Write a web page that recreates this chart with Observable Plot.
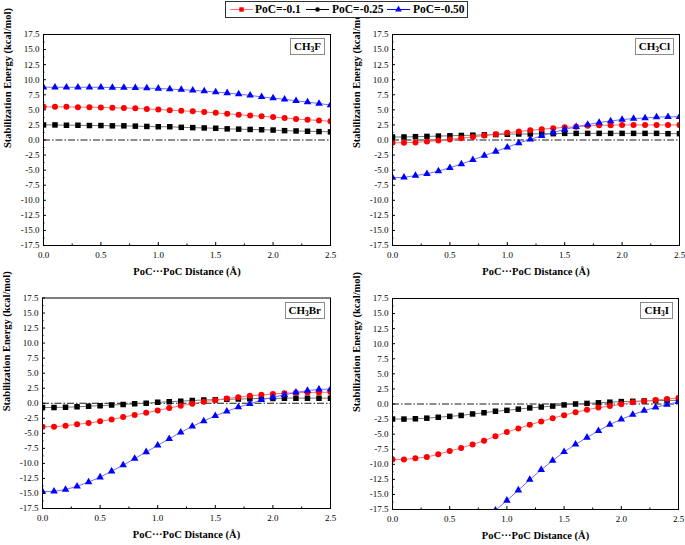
<!DOCTYPE html>
<html>
<head>
<meta charset="utf-8">
<script src="https://cdn.jsdelivr.net/npm/d3@7"></script>
<script src="https://cdn.jsdelivr.net/npm/@observablehq/plot@0.6"></script>
<style>
  html, body { margin: 0; padding: 0; background: #fff; }
  #root { position: relative; width: 685px; height: 545px; font-family: "Liberation Serif", serif; }
  #root svg { font-family: "Liberation Serif", serif !important; }
  .panel { position: absolute; }
  .tag { position: absolute; border: 1px solid #8a8a8a; background: #fff; font: bold 11px "Liberation Serif", serif; padding: 1px 3px 2px 3px; line-height: 12px; white-space: nowrap; }
  .tag sub { font-size: 7.5px; vertical-align: -2px; line-height: 0; }
  #legend { position: absolute; left: 225px; top: 1px; width: 241px; height: 15px; border: 1px solid #333; background: #fff; }
  #legend .lab { position: absolute; top: 0; font: bold 11.5px "Liberation Serif", serif; line-height: 15px; white-space: nowrap; }
  #legend svg { position: absolute; top: 1px; display: block; }
</style>
</head>
<body>
<div id="root"></div>
<script>
// ---- data ----
const seriesNames = ["PoC=-0.1", "PoC=-0.25", "PoC=-0.50"];
const distance = [0.0,0.1,0.2,0.3,0.4,0.5,0.6,0.7,0.8,0.9,1.0,1.1,1.2,1.3,1.4,1.5,1.6,1.7,1.8,1.9,2.0,2.1,2.2,2.3,2.4,2.5];

const F_red   = [5.5,5.5,5.5,5.45,5.45,5.4,5.35,5.3,5.25,5.15,5.05,4.95,4.85,4.75,4.65,4.5,4.35,4.2,4.05,3.95,3.8,3.65,3.5,3.35,3.25,3.1];
const F_black = [2.5,2.5,2.45,2.45,2.4,2.4,2.35,2.35,2.3,2.25,2.2,2.2,2.1,2.05,2.0,1.95,1.85,1.8,1.75,1.7,1.65,1.55,1.5,1.45,1.4,1.35];
const F_blue  = [8.75,8.75,8.75,8.75,8.75,8.75,8.7,8.7,8.65,8.6,8.55,8.45,8.35,8.25,8.1,7.95,7.8,7.6,7.4,7.15,6.95,6.75,6.5,6.3,6.05,5.8];

const Cl_red   = [-0.45,-0.45,-0.4,-0.25,-0.1,0.1,0.3,0.5,0.75,0.95,1.2,1.4,1.6,1.8,1.95,2.1,2.2,2.35,2.45,2.45,2.5,2.5,2.5,2.5,2.5,2.5];
const Cl_black = [0.5,0.5,0.55,0.6,0.65,0.7,0.75,0.8,0.85,0.9,0.95,1.0,1.0,1.05,1.05,1.1,1.1,1.1,1.1,1.1,1.1,1.1,1.1,1.1,1.05,1.05];
const Cl_blue  = [-6.25,-6.2,-5.9,-5.6,-5.15,-4.6,-4.0,-3.3,-2.6,-1.9,-1.2,-0.5,0.1,0.7,1.25,1.75,2.2,2.55,2.9,3.15,3.4,3.55,3.65,3.8,3.85,3.85];

const Br_red   = [-3.9,-3.9,-3.75,-3.5,-3.3,-3.0,-2.7,-2.3,-1.95,-1.6,-1.2,-0.8,-0.4,-0.1,0.25,0.5,0.8,1.0,1.25,1.4,1.55,1.65,1.75,1.8,1.8,1.85];
const Br_black = [-0.7,-0.7,-0.65,-0.6,-0.5,-0.4,-0.3,-0.2,-0.1,0.0,0.15,0.25,0.35,0.45,0.55,0.6,0.65,0.7,0.75,0.8,0.8,0.85,0.85,0.85,0.85,0.85];
const Br_blue  = [-14.7,-14.65,-14.35,-13.8,-13.1,-12.3,-11.3,-10.3,-9.2,-8.1,-7.0,-5.9,-4.85,-3.85,-2.95,-2.1,-1.35,-0.65,-0.1,0.55,1.0,1.4,1.8,2.1,2.3,2.35];

const I_red   = [-9.2,-9.2,-9.0,-8.8,-8.35,-7.8,-7.3,-6.7,-6.1,-5.35,-4.65,-4.05,-3.45,-2.9,-2.35,-1.85,-1.35,-0.95,-0.6,-0.35,-0.05,0.3,0.5,0.65,0.85,1.0];
const I_black = [-2.5,-2.5,-2.45,-2.35,-2.2,-2.05,-1.9,-1.65,-1.45,-1.2,-1.05,-0.85,-0.65,-0.5,-0.35,-0.15,0.0,0.1,0.2,0.3,0.4,0.45,0.5,0.55,0.6,0.6];
const I_blue_x = [0.9,1.0,1.1,1.2,1.3,1.4,1.5,1.6,1.7,1.8,1.9,2.0,2.1,2.2,2.3,2.4,2.5];
const I_blue   = [-17.65,-16.0,-14.3,-12.55,-10.9,-9.4,-7.95,-6.7,-5.55,-4.45,-3.4,-2.55,-1.75,-1.1,-0.55,-0.1,0.35];

const yTicks = [-17.5,-15,-12.5,-10,-7.5,-5,-2.5,0,2.5,5,7.5,10,12.5,15,17.5];
const yMinor = [-16.25,-13.75,-11.25,-8.75,-6.25,-3.75,-1.25,1.25,3.75,6.25,8.75,11.25,13.75,16.25];
const xTicks = [0,0.5,1.0,1.5,2.0,2.5];
const xMinor = [0.25,0.75,1.25,1.75,2.25];

const yTitle = "Stabilization Energy (kcal/mol)";
const xTitle = "PoC\u00B7\u00B7\u00B7PoC Distance (\u00C5)";

// ---- styles ----
const FONT = "Liberation Serif";
const styleOf = {
  "PoC=-0.1":  {dot: "#ff0000", line: "#ff7070", symbol: "circle", r: 3},
  "PoC=-0.25": {dot: "#000000", line: "#777777", symbol: "square", r: 3.1},
  "PoC=-0.50": {dot: "#0000ff", line: "#6f6fff", symbol: "triangle", r: 2.8}
};

function rows(xs, ys) { return xs.map((x, i) => ({x, y: ys[i]})); }

const panels = [
  {name: ["CH", "3", "F"], left: 0, top: 22, width: 340, height: 263, ml: 43, mr: 10, mt: 12, mb: 40,
   series: [["PoC=-0.25", rows(distance, F_black)], ["PoC=-0.1", rows(distance, F_red)], ["PoC=-0.50", rows(distance, F_blue)]]},
  {name: ["CH", "3", "Cl"], left: 340, top: 22, width: 345, height: 263, ml: 52, mr: 6, mt: 12, mb: 40,
   series: [["PoC=-0.25", rows(distance, Cl_black)], ["PoC=-0.1", rows(distance, Cl_red)], ["PoC=-0.50", rows(distance, Cl_blue)]]},
  {name: ["CH", "3", "Br"], left: 0, top: 285, width: 340, height: 260, ml: 42, mr: 10, mt: 12.5, mb: 37,
   series: [["PoC=-0.25", rows(distance, Br_black)], ["PoC=-0.1", rows(distance, Br_red)], ["PoC=-0.50", rows(distance, Br_blue)]]},
  {name: ["CH", "3", "I"], left: 340, top: 285, width: 345, height: 260, ml: 52, mr: 7, mt: 13, mb: 36,
   series: [["PoC=-0.25", rows(distance, I_black)], ["PoC=-0.1", rows(distance, I_red)], ["PoC=-0.50", rows(I_blue_x, I_blue)]]}
];

const root = document.getElementById("root");
const fmt = d => d.toFixed(1);

for (const p of panels) {
  const marks = [
    Plot.ruleY([0], {stroke: "#000", strokeWidth: 0.9, strokeDasharray: "7,2,1.5,2"})
  ];
  for (const [key, data] of p.series) {
    const s = styleOf[key];
    marks.push(Plot.line(data, {x: "x", y: "y", stroke: s.line, strokeWidth: 1, clip: true}));
    marks.push(Plot.dot(data, {x: "x", y: "y", symbol: s.symbol, fill: s.dot, r: s.r, stroke: "none", clip: true}));
  }
  marks.push(
    Plot.frame({stroke: "#000", strokeWidth: 1}),
    Plot.axisY(yTicks, {tickSize: -3, tickPadding: 7, tickFormat: fmt, label: null, fontSize: 9, fontFamily: FONT}),
    Plot.axisY(yMinor, {tickSize: -1.5, text: null, label: null}),
    Plot.axisX(xTicks, {tickSize: -3, tickPadding: 9, tickFormat: fmt, label: null, fontSize: 9, fontFamily: FONT}),
    Plot.axisX(xMinor, {tickSize: -1.5, text: null, label: null}),
    Plot.text([yTitle], {frameAnchor: "left", rotate: -90, dx: -36, dy: 8, fontWeight: "bold", fontSize: 10.5, fontFamily: FONT, text: d => d}),
    Plot.text([xTitle], {frameAnchor: "bottom", dy: 29, fontWeight: "bold", fontSize: 10.5, fontFamily: FONT, text: d => d})
  );
  const svg = Plot.plot({
    width: p.width, height: p.height,
    marginLeft: p.ml, marginRight: p.mr, marginTop: p.mt, marginBottom: p.mb,
    style: {fontFamily: FONT, fontSize: "9px", color: "#000", background: "#fff", overflow: "visible"},
    x: {domain: [0, 2.5]},
    y: {domain: [-17.5, 17.5]},
    marks
  });
  const wrap = document.createElement("div");
  wrap.className = "panel";
  wrap.style.left = p.left + "px";
  wrap.style.top = p.top + "px";
  wrap.appendChild(svg);
  root.appendChild(wrap);

  const tag = document.createElement("div");
  tag.className = "tag";
  tag.innerHTML = p.name[0] + "<sub>" + p.name[1] + "</sub>" + p.name[2];
  tag.style.right = (685 - (p.left + p.width - p.mr) + 5) + "px";
  tag.style.top = (p.top + p.mt + 4) + "px";
  root.appendChild(tag);
}

// ---- legend ----
const legend = document.createElement("div");
legend.id = "legend";
const symbolPath = {circle: d3.symbolCircle, square: d3.symbolSquare, triangle: d3.symbolTriangle};
// [label, marker colour, line colour, symbol, line start (px from box), text start]
const legendOrder = [
  ["PoC=-0.1", "#ff0000", "#ff7070", "square", 4, 29],
  ["PoC=-0.25", "#000000", "#000000", "circle", 80, 106],
  ["PoC=-0.50", "#0000ff", "#0000ff", "triangle", 161, 187]
];
for (const [label, dot, line, sym, x0, tx] of legendOrder) {
  const w = 23;
  const size = sym === "circle" ? Math.PI * 2.3 * 2.3 : Math.PI * 2.5 * 2.5;
  const path = d3.symbol(symbolPath[sym], size)();
  const svg = `<svg width="${w}" height="13" style="left:${x0}px"><line x1="0" x2="${w}" y1="6.5" y2="6.5" stroke="${line}" stroke-width="1"/><path d="${path}" transform="translate(${w/2},6.5)" fill="${dot}"/></svg>`;
  legend.insertAdjacentHTML("beforeend", svg + `<span class="lab" style="left:${tx}px">${label}</span>`);
}
root.appendChild(legend);
</script>
</body>
</html>
